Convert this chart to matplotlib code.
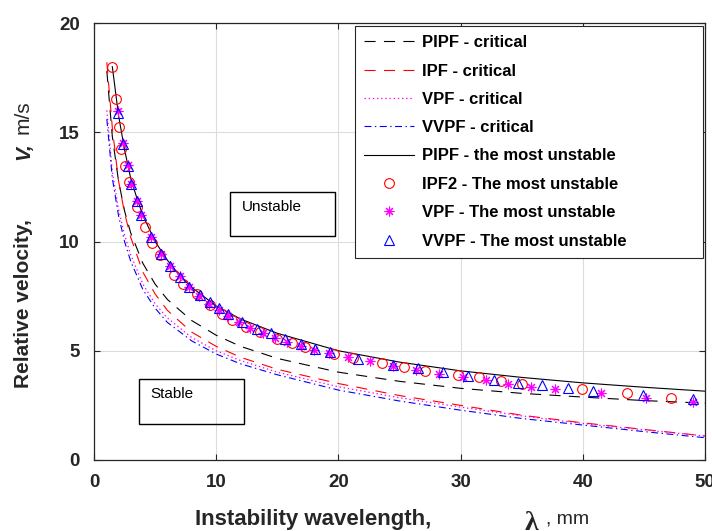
import matplotlib
matplotlib.use('Agg')
import matplotlib.pyplot as plt
from matplotlib.patches import Rectangle

plt.rcParams['font.family'] = ['Liberation Sans', 'DejaVu Sans']
plt.rcParams['lines.scale_dashes'] = False

# ---------------- data ----------------
lam_crit = [1.05, 1.5, 2, 2.5, 3, 4, 5, 6, 8, 10, 12, 15, 20, 25, 30, 35, 40, 45, 50]
v_pipf_crit = [17.8, 14.8, 12.8, 11.4, 10.4, 9.0, 8.05, 7.35, 6.38, 5.71, 5.2, 4.65, 4.02, 3.6, 3.28, 3.05, 2.88, 2.72, 2.6]
v_ipf_crit = [18.2, 15.2, 12.8, 11.3, 10.2, 8.6, 7.6, 6.85, 5.85, 5.2, 4.7, 4.15, 3.5, 2.95, 2.5, 2.05, 1.7, 1.4, 1.1]
v_vpf_crit = [16.0, 13.2, 11.5, 10.3, 9.4, 8.05, 7.15, 6.5, 5.6, 5.0, 4.55, 4.02, 3.35, 2.85, 2.42, 2.02, 1.67, 1.38, 1.1]
v_vvpf_crit = [15.6, 12.9, 11.2, 10.0, 9.1, 7.8, 6.95, 6.3, 5.45, 4.85, 4.4, 3.9, 3.2, 2.7, 2.28, 1.9, 1.6, 1.3, 1.02]

lam_pipf_mu = [1.5, 2, 2.5, 3, 3.5, 4, 5, 6, 7, 8, 10, 12, 15, 20, 25, 30, 35, 40, 45, 50]
v_pipf_mu = [18.0, 15.8, 14.2, 12.9, 12.0, 11.2, 10.0, 9.15, 8.45, 7.9, 7.05, 6.45, 5.8, 5.0, 4.48, 4.08, 3.78, 3.53, 3.33, 3.15]

lam_ipf2_mu = [1.47, 1.80, 2.02, 2.21, 2.56, 2.89, 3.49, 4.2, 4.75, 5.4, 6.55, 7.3, 8.4, 9.49, 10.45,
               11.27, 12.4, 13.6, 15.0, 16.2, 17.3, 19.6, 21.2, 23.6, 25.4, 27.1, 29.8, 31.5, 33.3,
               35.0, 39.9, 43.6, 47.2]
v_ipf2_mu = [18.0, 16.5, 15.26, 14.23, 13.47, 12.71, 11.57, 10.65, 9.92, 9.36, 8.45, 8.07, 7.6, 7.08, 6.7,
             6.39, 6.08, 5.86, 5.55, 5.35, 5.17, 4.87, 4.69, 4.46, 4.26, 4.08, 3.91, 3.78, 3.62,
             3.47, 3.24, 3.05, 2.82]

lam_vpf_mu = [1.94, 2.35, 2.76, 3.03, 3.49, 3.85, 4.66, 5.45, 6.2, 7.0, 7.8, 8.6, 9.4, 10.2, 11.0,
              11.9, 12.8, 13.8, 14.8, 15.8, 16.9, 18.0, 19.2, 20.8, 22.6, 24.5, 26.35, 28.2, 30.2,
              32.1, 33.9, 35.8, 37.7, 41.5, 45.2, 49.0]
v_vpf_mu = [15.95, 14.5, 13.5, 12.65, 11.85, 11.2, 10.2, 9.45, 8.9, 8.4, 7.9, 7.5, 7.15, 6.85, 6.6,
            6.3, 6.05, 5.8, 5.58, 5.4, 5.2, 5.05, 4.9, 4.72, 4.52, 4.31, 4.11, 3.93, 3.78,
            3.65, 3.5, 3.35, 3.27, 3.07, 2.85, 2.66]

lam_vvpf_mu = [1.94, 2.35, 2.76, 3.03, 3.49, 3.85, 4.66, 5.45, 6.2, 7.0, 7.8, 8.67, 9.5, 10.25, 11.0,
               12.1, 13.3, 14.5, 15.6, 16.9, 18.1, 19.3, 21.6, 24.5, 26.5, 28.6, 30.6, 32.7, 34.7,
               36.7, 38.8, 40.8, 44.95, 49.0]
v_vvpf_mu = [15.9, 14.46, 13.47, 12.63, 11.84, 11.19, 10.2, 9.44, 8.9, 8.37, 7.91, 7.53, 7.23, 6.95, 6.7,
             6.32, 6.01, 5.79, 5.56, 5.33, 5.1, 4.95, 4.64, 4.34, 4.19, 4.03, 3.84, 3.68, 3.53,
             3.42, 3.30, 3.15, 2.97, 2.77]

labels = ['PIPF - critical', 'IPF - critical', 'VPF - critical', 'VVPF - critical',
          'PIPF - the most unstable', 'IPF2 - The most unstable',
          'VPF - The most unstable', 'VVPF - The most unstable']

x_ticks = [0, 10, 20, 30, 40, 50]
y_ticks = [0, 5, 10, 15, 20]

# ---------------- figure ----------------
W, H = 712, 531
fig = plt.figure(figsize=(W / 100, H / 100), dpi=100)


def fx(x):
    return x / W


def fy(y):
    return 1 - y / H


AX_L, AX_R, AX_T, AX_B = 94, 705, 23, 460
ax = fig.add_axes([fx(AX_L), fy(AX_B), (AX_R - AX_L) / W, (AX_B - AX_T) / H])

dark = '#262626'
ax.plot(lam_crit, v_pipf_crit, color='black', lw=0.8, dashes=(8, 6), label=labels[0])
ax.plot(lam_crit, v_ipf_crit, color='#ff0000', lw=0.8, dashes=(8, 6), label=labels[1])
ax.plot(lam_crit, v_vpf_crit, color='#ff00ff', lw=0.9, dashes=(1, 2), label=labels[2])
ax.plot(lam_crit, v_vvpf_crit, color='#0000ff', lw=0.8, dashes=(5, 2.5, 1, 2.5), label=labels[3])
ax.plot(lam_pipf_mu, v_pipf_mu, color='black', lw=0.8, label=labels[4])
ax.plot(lam_ipf2_mu, v_ipf2_mu, ls='none', marker='o', ms=7, mfc='none', mec='#ff0000', mew=0.8,
        label=labels[5])
ax.plot(lam_vpf_mu, v_vpf_mu, ls='none', marker=(8, 2, 0), ms=7, mec='#ff00ff', mew=0.8,
        label=labels[6])
ax.plot(lam_vvpf_mu, v_vvpf_mu, ls='none', marker='^', ms=7, mfc='none', mec='#0000ff', mew=0.8,
        label=labels[7])

ax.set_xlim(0, 50)
ax.set_ylim(0, 20)
ax.set_xticks(x_ticks)
ax.set_yticks(y_ticks)
ax.grid(True, color='#dcdcdc', lw=0.8)
ax.set_axisbelow(True)
for s in ax.spines.values():
    s.set_color(dark)
    s.set_linewidth(0.9)
ax.tick_params(direction='in', length=4, width=0.8, top=True, right=True, colors=dark,
               labelsize=13.5)
ax.tick_params(axis='x', pad=10)
ax.tick_params(axis='y', pad=10)
for lbl in ax.get_xticklabels() + ax.get_yticklabels():
    lbl.set_fontweight('bold')

# legend
lx0 = (355 - AX_L) / (AX_R - AX_L)
lx1 = (703 - AX_L) / (AX_R - AX_L)
ly1 = (AX_B - 26) / (AX_B - AX_T)
leg = ax.legend(loc='upper left', bbox_to_anchor=(lx0, ly1 - 0.6, lx1 - lx0, 0.6), mode='expand',
                borderaxespad=0, prop={'weight': 'bold', 'size': 12}, labelspacing=0.8,
                handlelength=3.0, handletextpad=0.45, borderpad=0.55, numpoints=1,
                fancybox=False, framealpha=1, edgecolor=dark)
leg.get_frame().set_linewidth(0.8)

# region boxes
def box(l, r, t, b, txt, tx, ty):
    fig.add_artist(Rectangle((fx(l), fy(b)), (r - l) / W, (b - t) / H, fill=False,
                             ec='black', lw=1.0, transform=fig.transFigure))
    fig.text(fx(tx), fy(ty), txt, ha='left', va='center', fontsize=11, color='black')


box(230, 335, 192, 236, 'Unstable', 242, 207)
box(139, 244, 379, 424, 'Stable', 150, 394)

# axis labels
fig.text(fx(195), fy(525), 'Instability wavelength,', ha='left', va='baseline',
         fontsize=16, fontweight='bold', color=dark)
fig.text(fx(525), fy(530), 'λ', ha='left', va='baseline', fontsize=20, fontweight='bold',
         family=['Liberation Serif', 'DejaVu Serif'], color=dark)
fig.text(fx(546), fy(523), ', mm', ha='left', va='baseline', fontsize=14, color=dark)

fig.text(fx(29), fy(388), 'Relative velocity,', rotation=90, rotation_mode='anchor',
         ha='left', va='baseline', fontsize=15, fontweight='bold', color=dark)
fig.text(fx(29), fy(160), 'V,', rotation=90, rotation_mode='anchor',
         ha='left', va='baseline', fontsize=15, fontweight='bold', style='italic', color=dark)
fig.text(fx(29), fy(134), 'm/s', rotation=90, rotation_mode='anchor',
         ha='left', va='baseline', fontsize=15, color=dark)

fig.savefig('out.png', dpi=100)
